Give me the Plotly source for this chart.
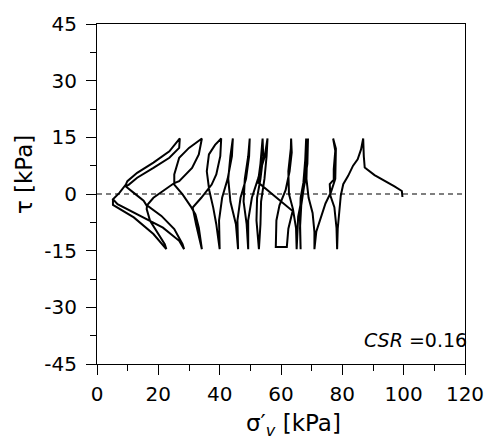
import plotly.graph_objects as go

# Stress path: effective vertical stress (kPa) and shear stress (kPa)
sigma_v = [
    99.6, 99.4, 97.0, 94.5, 90.5, 87.3, 87.0, 86.8,
    86.1, 85.0, 83.5, 81.9, 80.3, 79.5, 79.1, 78.5, 78.3,
    78.1, 77.4, 76.1, 75.9, 77.2, 77.2, 77.7, 77.0,
    77.9, 77.7, 76.3, 74.5, 73.0, 71.5, 70.9,
    70.9, 70.3, 69.0, 68.3, 68.5, 68.2,
    67.9, 67.3, 66.4, 66.2, 66.4,
    66.2, 66.6, 67.6, 68.6, 68.8,
    68.6, 68.0, 66.8, 65.6, 65.1,
    64.9, 63.9, 62.6, 62.4, 63.2, 63.3,
    63.5, 62.8, 61.5, 59.5, 58.5, 58.3,
    61.9, 62.4, 63.8,
    52.5, 53.3, 54.0,
    54.2, 53.3, 52.2, 52.0, 52.8,
    53.3, 53.5, 54.6, 55.3, 55.6,
    54.7, 52.5, 50.5, 49.3, 49.3,
    48.8, 47.8, 48.2, 49.3, 49.8,
    49.6, 48.6, 46.8, 45.8, 46.0,
    45.3, 43.5, 42.8, 43.5, 44.3,
    44.0, 42.6, 40.8, 39.8, 40.0,
    38.9, 37.9, 36.6, 35.8, 36.5, 38.5, 40.5,
    40.2, 38.9, 37.4, 34.0, 31.2, 32.3, 34.2,
    33.2, 32.1, 30.5, 27.9, 25.2,
    25.2, 26.8, 30.0, 34.2,
    33.2, 31.0, 26.8, 25.2,
    21.5, 18.4, 16.3,
    21.0, 25.2, 27.9, 28.4,
    26.8, 21.5, 13.1, 6.7, 5.2,
    5.7, 7.3, 9.4,
    9.9, 13.1, 18.4, 23.6, 27.0,
    26.8, 23.6, 18.4, 13.1, 10.4, 9.4,
    12.0, 15.2, 16.3,
    16.2, 17.3, 19.4, 22.1, 22.6,
    18.4, 12.0, 6.2, 5.2, 5.2,
]
tau = [
    -0.8, 0.8, 2.0, 3.1, 5.0, 7.0, 10.0, 14.7,
    11.8, 9.2, 7.5, 4.8, 2.6, -0.4, -4.0, -9.2, -14.6,
    -9.0, -3.5, -0.4, 2.6, 3.8, 6.6, 11.4, 14.7,
    12.0, 4.0, 0.5, -2.5, -6.0, -10.0, -14.6,
    -10.0, -5.0, -1.0, 4.0, 10.0, 14.7,
    9.0, 3.0, -1.0, -7.0, -14.6,
    -9.0, -3.0, 2.0, 8.0, 14.7,
    10.0, 4.0, -1.0, -6.0, -14.6,
    -9.0, -4.0, 0.0, 6.0, 12.0, 14.7,
    11.0, 6.0, 1.0, -3.0, -7.0, -14.0,
    -14.0, -9.2, -4.5,
    3.1, 8.0, 14.7,
    10.0, 4.0, -1.0, -7.0, -14.6,
    -8.0, -2.0, 4.0, 10.0, 14.7,
    10.0, 4.0, -1.0, -7.0, -14.6,
    -8.0, -2.0, 4.0, 10.0, 14.7,
    10.0, 4.0, -1.0, -7.0, -14.6,
    -8.0, -2.0, 4.0, 10.0, 14.7,
    10.0, 4.0, -1.0, -7.0, -14.6,
    -8.0, -3.6, 1.0, 6.0, 10.5, 13.0, 14.7,
    10.0, 5.2, 2.5, -1.0, -3.6, -8.0, -14.6,
    -8.9, -5.4, -3.2, -0.1, 2.5,
    5.2, 9.6, 12.2, 14.7,
    10.5, 6.9, 3.4, 2.9,
    0.8, -1.0, -3.0,
    -5.8, -9.3, -13.3, -14.6,
    -12.4, -8.9, -5.4, -2.7, -1.4,
    -1.0, 0.3, 2.5,
    3.4, 5.6, 8.3, 11.3, 14.7,
    12.2, 9.6, 6.9, 4.3, 2.5, 2.0,
    0.3, -1.8, -3.2,
    -4.0, -7.1, -9.7, -13.3, -14.6,
    -10.6, -6.2, -3.2, -2.9, -1.4,
]

x_ticks = [0, 20, 40, 60, 80, 100, 120]
x_tick_labels = ["0", "20", "40", "60", "80", "100", "120"]
y_ticks = [-45, -30, -15, 0, 15, 30, 45]
y_tick_labels = ["-45", "-30", "-15", "0", "15", "30", "45"]
x_title = "σ′<sub><i>v</i></sub> [kPa]"
y_title = "τ [kPa]"
csr_label = "<i>CSR</i> =0.16"

FONT = "DejaVu Sans, Liberation Sans, Arial, sans-serif"

fig = go.Figure()
fig.add_trace(go.Scatter(
    x=sigma_v, y=tau, mode="lines",
    line=dict(color="black", width=2),
    hoverinfo="skip",
))

axis_common = dict(
    showgrid=False, zeroline=False, showline=True, linecolor="black",
    linewidth=1, mirror=True, ticks="outside", ticklen=10, tickwidth=1,
    tickcolor="black", tickfont=dict(family=FONT, size=20, color="black"),
)
fig.update_xaxes(
    range=[0, 120], tickmode="array", tickvals=x_ticks, ticktext=x_tick_labels,
    minor=dict(ticks="outside", dtick=10, tick0=0, ticklen=6, tickcolor="black", showgrid=False),
    ticklabelstandoff=2,
    **axis_common,
)
fig.update_yaxes(
    range=[-45, 45], tickmode="array", tickvals=y_ticks, ticktext=y_tick_labels,
    minor=dict(ticks="outside", dtick=7.5, tick0=0, ticklen=6, tickcolor="black", showgrid=False),
    ticklabelstandoff=5,
    **axis_common,
)

fig.add_shape(type="line", xref="x domain", yref="y", x0=0, x1=1, y0=0, y1=0,
              line=dict(color="#555555", width=1.4, dash="5px,4px"), layer="below")

fig.add_annotation(text=y_title, xref="paper", yref="paper", x=-0.198, y=0.556,
                   xanchor="center", yanchor="middle", textangle=-90, showarrow=False,
                   font=dict(family=FONT, size=23, color="black"))
fig.add_annotation(text=x_title, xref="paper", yref="paper", x=0.535, y=-0.178,
                   xanchor="center", yanchor="middle", showarrow=False,
                   font=dict(family=FONT, size=23, color="black"))
fig.add_annotation(text=csr_label, xref="paper", yref="paper", x=1.01, y=0.07,
                   xanchor="right", yanchor="middle", showarrow=False,
                   font=dict(family=FONT, size=19, color="black"))

fig.update_layout(
    width=496, height=442,
    margin=dict(l=97, r=20, t=22, b=78),
    paper_bgcolor="white", plot_bgcolor="white",
    showlegend=False,
    font=dict(family=FONT, color="black"),
)

fig.write_html("out.html")
